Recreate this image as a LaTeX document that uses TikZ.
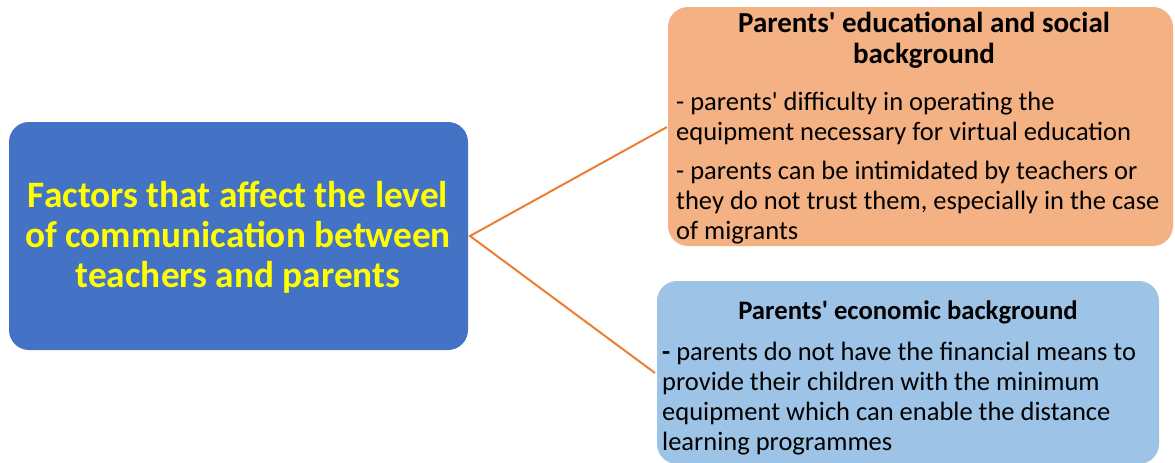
\documentclass[tikz,border=0pt]{standalone}
\usepackage{fontspec}
\setmainfont{Carlito}
\definecolor{mainblue}{HTML}{4472C4}
\definecolor{eduorange}{HTML}{F4B183}
\definecolor{ecoblue}{HTML}{9DC3E6}
\definecolor{linkorange}{HTML}{ED7D31}
\definecolor{titleyellow}{HTML}{FFFF00}
\newcommand{\apos}{\textquotesingle}
\begin{document}
\begin{tikzpicture}[x=1pt,y=-1pt,
  panel/.style={rounded corners=20pt, inner sep=0pt, outer sep=0pt},
  link/.style={draw=linkorange, line width=2pt},
  bodytext/.style={anchor=base west, inner sep=0pt, align=left,
    font=\fontsize{26.5}{30}\selectfont, text=black},
  headtext/.style={anchor=base, inner sep=0pt, align=center,
    font=\fontsize{29}{31}\selectfont\bfseries, text=black}]
\useasboundingbox (0,0) rectangle (1175,463);
% boxes
\path[panel, fill=mainblue] (9,122) rectangle (468,350);
\coordinate (mainE) at (470,236);
\path[panel, fill=eduorange] (668,7) rectangle (1173,246);
\coordinate (eduW) at (667,127);
\path[panel, fill=ecoblue] (657,281) rectangle (1159,464);
\coordinate (ecoW) at (655,373);
% connectors
\draw[link] (eduW) -- (mainE) -- (ecoW);
% main text (base = last line)
\node[anchor=base, inner sep=0pt, align=center, text=titleyellow,
  font=\fontsize{37.3}{40}\selectfont\bfseries] (maintext) at (238,287)
  {Factors that affect the level\\of communication between\\teachers and parents};
% orange box text
\node[headtext] (eduhead) at (924,63) {Parents\apos{} educational and social\\background};
\node[bodytext] (edubody1) at (676,140) {- parents\apos{} difficulty in operating the\\equipment necessary for virtual education};
\node[bodytext] (edubody2) at (676,239) {- parents can be intimidated by teachers or\\they do not trust them, especially in the case\\of migrants};
% blue box text
\node[headtext, font=\fontsize{26.7}{31}\selectfont\bfseries] (ecohead) at (908,319) {Parents\apos{} economic background};
\node[bodytext] (ecobody) at (662,450) {\textbf{-} parents do not have the financial means to\\provide their children with the minimum\\equipment which can enable the distance\\learning programmes};
\end{tikzpicture}
\end{document}
